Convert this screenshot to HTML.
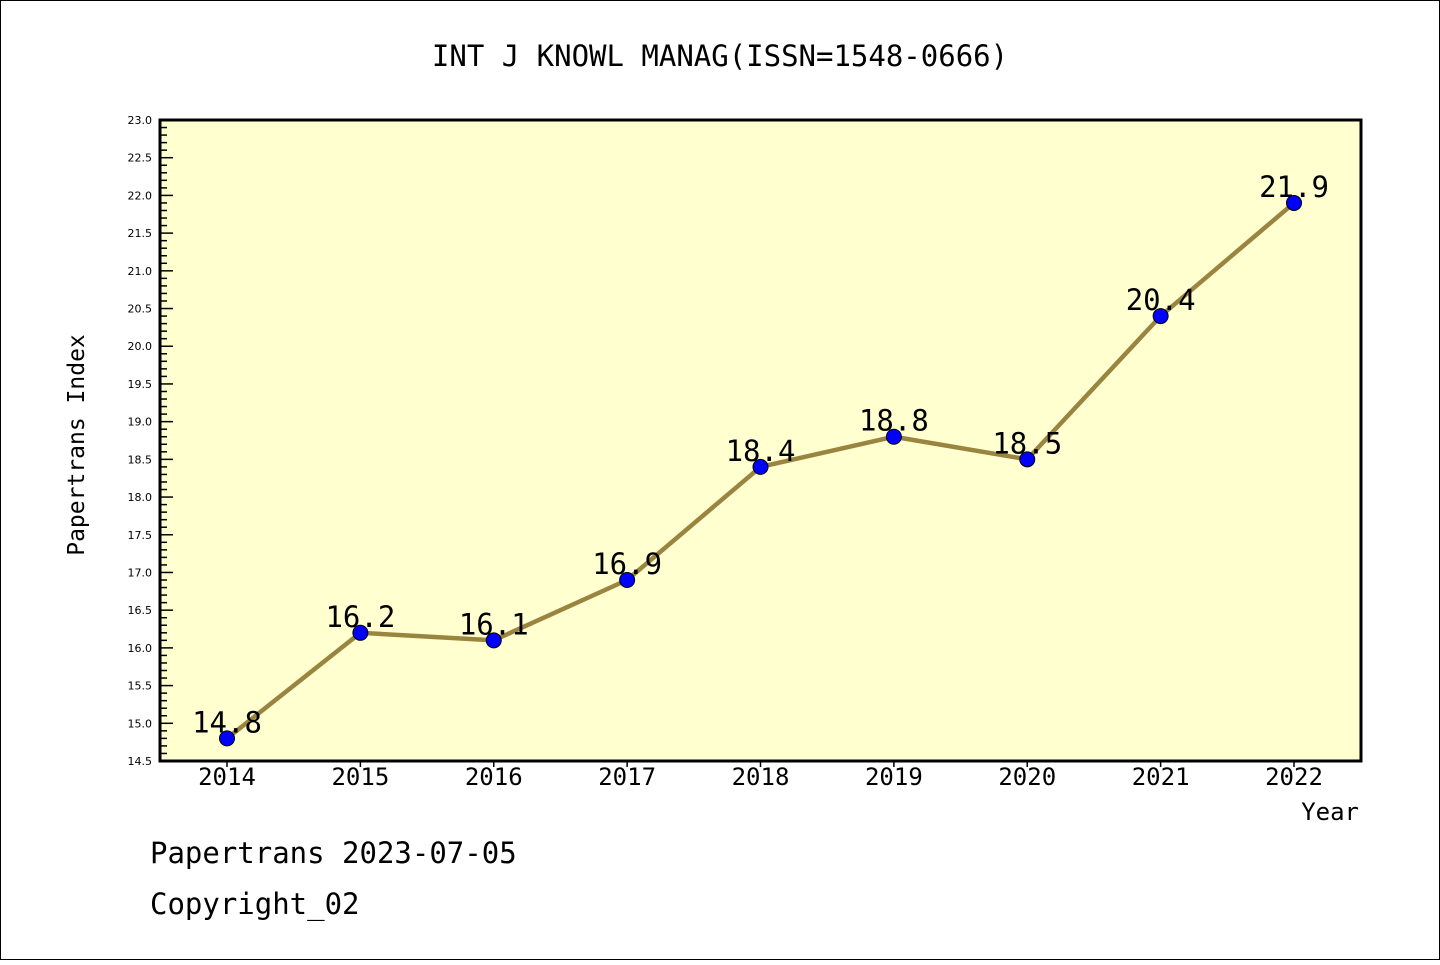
<!DOCTYPE html>
<html><head><meta charset="utf-8"><style>
body{margin:0;background:#fff;}
svg text{font-family:"DejaVu Sans Mono","Liberation Mono",monospace;}
svg text.tk{font-family:"DejaVu Sans","Liberation Sans",sans-serif;}
</style></head><body>
<svg width="1440" height="960" xmlns="http://www.w3.org/2000/svg">
<rect x="0.5" y="0.5" width="1439" height="959" fill="#fff" stroke="#000"/>
<text x="720" y="66" font-size="29" text-anchor="middle">INT J KNOWL MANAG(ISSN=1548-0666)</text>
<rect x="160" y="120" width="1201" height="641" fill="#ffffd0"/>
<g id="yaxis"></g>
<g id="xaxis"></g>
<g id="series"></g>
<rect x="160" y="120" width="1201" height="641" fill="none" stroke="#000" stroke-width="3"/>
<text x="84" y="445" font-size="23" text-anchor="middle" transform="rotate(-90 84 445)">Papertrans Index</text>
<text x="1359" y="820" font-size="24" text-anchor="end">Year</text>
<text x="150" y="863" font-size="29">Papertrans 2023-07-05</text>
<text x="150" y="914" font-size="29">Copyright_02</text>
</svg>
<script>
const years=[2014,2015,2016,2017,2018,2019,2020,2021,2022];
const values=[14.8,16.2,16.1,16.9,18.4,18.8,18.5,20.4,21.9];
const valueLabels=["14.8","16.2","16.1","16.9","18.4","18.8","18.5","20.4","21.9"];
const yTickLabels=["14.5","15.0","15.5","16.0","16.5","17.0","17.5","18.0","18.5","19.0","19.5","20.0","20.5","21.0","21.5","22.0","22.5","23.0"];
const yMin=14.5,yMax=23.0;
const NS="http://www.w3.org/2000/svg";
function X(yr){return 227+(yr-2014)*(1294-227)/8;}
function Y(v){return 761-(v-yMin)/(yMax-yMin)*641;}
function mk(t,a,p){const e=document.createElementNS(NS,t);for(const k in a)e.setAttribute(k,a[k]);p.appendChild(e);return e;}
const ya=document.getElementById('yaxis');
for(let i=0;i<=85;i++){const v=yMin+i*0.1;const y=Y(v);const major=i%5===0;
 const l=mk('line',{x1:160,x2:major?173:167,y1:y,y2:y,stroke:'#000','stroke-width':1.5},ya);
 
 }
yTickLabels.forEach(s=>{const t=mk('text',{class:'tk',x:152,y:Y(parseFloat(s))+4,'font-size':11,'text-anchor':'end'},ya);t.textContent=s;
 
 });
const xa=document.getElementById('xaxis');
years.forEach(yr=>{const x=X(yr);
 const l=mk('line',{x1:x,x2:x,y1:761,y2:767,stroke:'#000','stroke-width':1.5},xa);
 
 
 const t=mk('text',{x:x,y:785,'font-size':24,'text-anchor':'middle'},xa);t.textContent=yr;
 
 });
const sg=document.getElementById('series');
const pl=mk('polyline',{points:years.map((yr,i)=>X(yr)+','+Y(values[i])).join(' '),fill:'none',stroke:'#9a8540','stroke-width':4.5},sg);


years.forEach((yr,i)=>{
 const t=mk('text',{x:X(yr),y:Y(values[i])-6,'font-size':29,'text-anchor':'middle'},sg);t.textContent=valueLabels[i];
 
 });
years.forEach((yr,i)=>{
 const c=mk('circle',{cx:X(yr),cy:Y(values[i]),r:7.5,fill:'#0000ff',stroke:'#000','stroke-width':1},sg);
 
 });
</script>
</body></html>
